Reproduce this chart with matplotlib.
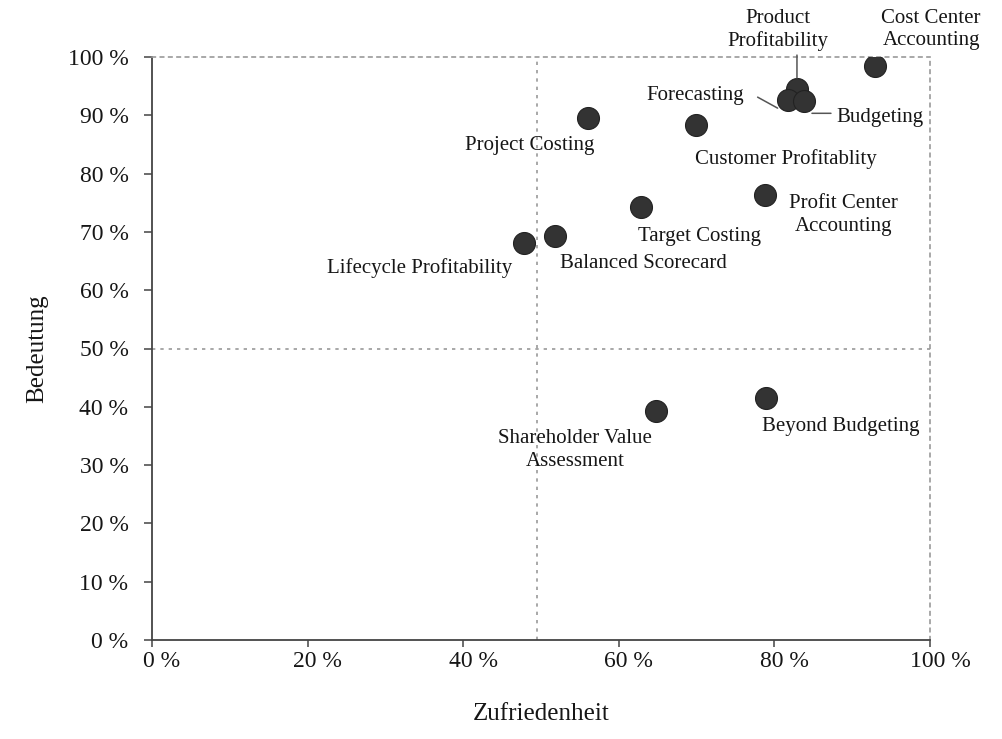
import matplotlib
matplotlib.use("Agg")
import matplotlib.pyplot as plt
from matplotlib.transforms import ScaledTranslation
from matplotlib.ticker import FuncFormatter

# ---- data ----
methods = ["Cost Center\nAccounting", "Product\nProfitability", "Forecasting", "Budgeting",
           "Customer Profitablity", "Project Costing", "Target Costing",
           "Profit Center\nAccounting", "Balanced Scorecard", "Lifecycle Profitability",
           "Shareholder Value\nAssessment", "Beyond Budgeting"]
zufriedenheit = [92.9, 82.9, 81.7, 83.8, 69.9, 56.0, 62.9, 78.8, 51.8, 47.8, 64.8, 78.9]
bedeutung = [98.5, 94.5, 92.6, 92.4, 88.3, 89.5, 74.3, 76.3, 69.3, 68.1, 39.3, 41.5]
x_ticks = [0, 20, 40, 60, 80, 100]
y_ticks = [0, 10, 20, 30, 40, 50, 60, 70, 80, 90, 100]
x_split = 49.5
y_split = 50

# ---- layout: label offsets in pixels (dx, dy, ha, multialign) ----
label_layout = {
    "Cost Center\nAccounting": (106, 36, "right", "right"),
    "Product\nProfitability": (-19, 59, "center", "center"),
    "Forecasting": (-92, 5, "center", "center"),
    "Budgeting": (76, -16, "center", "center"),
    "Customer Profitablity": (90, -34, "center", "center"),
    "Project Costing": (-58, -27, "center", "center"),
    "Target Costing": (58, -30, "center", "center"),
    "Profit Center\nAccounting": (78, -20, "center", "center"),
    "Balanced Scorecard": (88, -28, "center", "center"),
    "Lifecycle Profitability": (-104, -25, "center", "center"),
    "Shareholder Value\nAssessment": (-81, -39, "center", "center"),
    "Beyond Budgeting": (75, -28, "center", "center"),
}
connectors = {
    "Product\nProfitability": ((0, 34), (0, 11)),
    "Forecasting": ((-30, 3), (-10, -8)),
    "Budgeting": ((8, -12), (27, -12)),
}

plt.rcParams['font.family'] = ['Liberation Serif', 'DejaVu Serif']
DPI = 100
fig = plt.figure(figsize=(10.02, 7.39), dpi=DPI)
ax = fig.add_axes([152/1002, 99/739, 778/1002, 583/739])
ax.set_xlim(0, 100)
ax.set_ylim(0, 100)

dark = "#161616"
ax.scatter(zufriedenheit, bedeutung, s=250, color="#333333", edgecolor="#222222",
           linewidth=0.8, zorder=3)

def off(dx, dy):
    return ax.transData + ScaledTranslation(dx / DPI, dy / DPI, fig.dpi_scale_trans)

for name, x, y in zip(methods, zufriedenheit, bedeutung):
    dx, dy, ha, ma = label_layout[name]
    ax.text(x, y, name, transform=off(dx, dy), ha=ha, va="center",
            multialignment=ma, fontsize=15, color=dark, linespacing=1.25)
    if name in connectors:
        (sx, sy), (ex, ey) = connectors[name]
        ax.annotate("", xy=(x, y), xycoords=off(ex, ey), xytext=(x, y),
                    textcoords=off(sx, sy),
                    arrowprops=dict(arrowstyle="-", color="#555555", lw=1.1,
                                    shrinkA=0, shrinkB=0))

dotted = dict(color="#9a9a9a", linestyle=(0, (2, 3)), linewidth=1.2)
ax.axvline(x_split, **dotted, zorder=1)
ax.axhline(y_split, **dotted, zorder=1)

for s in ["top", "right"]:
    ax.spines[s].set_linestyle((0, (2, 3)))
    ax.spines[s].set_color("#9a9a9a")
    ax.spines[s].set_linewidth(1.2)
for s in ["left", "bottom"]:
    ax.spines[s].set_color("#444444")
    ax.spines[s].set_linewidth(1.3)

ax.set_xticks(x_ticks)
ax.set_yticks(y_ticks)
fmt = FuncFormatter(lambda v, p: f"{int(v)} %")
ax.xaxis.set_major_formatter(fmt)
ax.yaxis.set_major_formatter(fmt)
ax.tick_params(axis="x", direction="out", length=5, width=1.1, color="#444444",
               labelsize=17, pad=3, labelcolor=dark)
ax.tick_params(axis="y", direction="out", length=6, width=1.1, color="#444444",
               labelsize=17, pad=11, labelcolor=dark)
for lab in ax.get_xticklabels():
    lab.set_transform(lab.get_transform() + ScaledTranslation(10 / DPI, 0, fig.dpi_scale_trans))

ax.set_xlabel("Zufriedenheit", fontsize=18, color=dark, labelpad=22)
ax.set_ylabel("Bedeutung", fontsize=18, color=dark, labelpad=14)

fig.savefig("out.png", dpi=DPI)
